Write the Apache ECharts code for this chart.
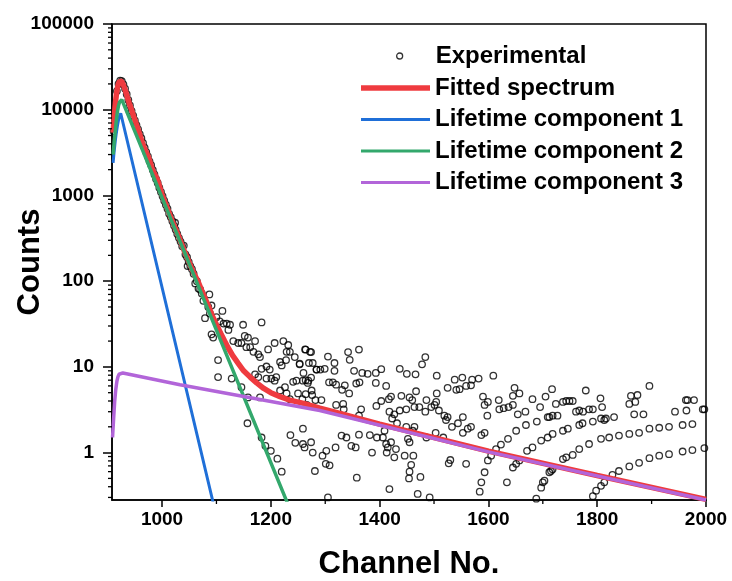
<!DOCTYPE html>
<html>
<head>
<meta charset="utf-8">
<script src="https://cdn.jsdelivr.net/npm/echarts@6/dist/echarts.min.js"></script>
<style>
  html, body { margin: 0; padding: 0; background: #fff; }
  #chart { width: 732px; height: 581px; }
</style>
</head>
<body>
<div id="chart"></div>
<script>
// axis ticks
const xTickLabels = [1000, 1200, 1400, 1600, 1800, 2000];
const xMinorTicks = [1100, 1300, 1500, 1700, 1900];
const yTickLabels = [1, 10, 100, 1000, 10000, 100000];
const yMinorTicks = [0.3, 0.4, 0.5, 0.6, 0.7, 0.8, 0.9,
  2, 3, 4, 5, 6, 7, 8, 9, 20, 30, 40, 50, 60, 70, 80, 90,
  200, 300, 400, 500, 600, 700, 800, 900, 2000, 3000, 4000, 5000, 6000, 7000, 8000, 9000,
  20000, 30000, 40000, 50000, 60000, 70000, 80000, 90000];
const xMin = 908, xMax = 2000, yMin = 0.28, yMax = 100000;

// fitted curves [channel, counts]
const fitted = [[910, 5400], [912, 8000], [914, 11500], [916, 15000], [918, 18000], [920, 20300],
  [922, 21500], [924, 21800], [926, 21300], [929, 19500], [932, 17200], [936, 14200], [940, 11800],
  [948, 8300], [956, 5900], [965, 3900], [975, 2800], [983, 1950], [992, 1500], [1000, 1020],
  [1010, 700], [1020, 480], [1030, 340], [1040, 232], [1050, 165], [1058, 125], [1066, 100],
  [1075, 72], [1085, 52], [1092, 40], [1100, 31], [1108, 24.5], [1115, 20], [1122, 16.5],
  [1130, 13.5], [1140, 11], [1150, 9], [1162, 7.6], [1174, 6.5], [1187, 5.6], [1200, 5.0],
  [1217, 4.5], [1235, 4.1], [1260, 3.75], [1290, 3.3], [1320, 2.95], [1400, 2.15], [1600, 1.04],
  [1800, 0.54], [2000, 0.285]];
const comp1 = [[910, 2400], [912, 3300], [914, 4300], [916, 5400], [918, 6500], [920, 7600],
  [922, 8500], [924, 9100], [926, 9200], [1100, 0.18]];
const comp2 = [[910, 3000], [912, 4200], [914, 5600], [916, 7500], [918, 9500], [920, 11200],
  [922, 12300], [924, 12900], [926, 13100], [1235, 0.22]];
const comp3 = [[909, 1.5], [911, 2.5], [913, 4.0], [915, 5.5], [917, 6.8], [919, 7.7], [921, 8.2],
  [924, 8.5], [928, 8.5], [1033, 6.2], [1290, 3.1], [1600, 1.02], [2000, 0.28]];

// experimental points [channel, counts]
const experimental = [
  [911, 5600], [914, 11000], [917, 16500], [920, 20000], [923, 21800], [926, 21500], [929, 19800],
  [932, 17600], [935, 15200], [938, 13000], [941, 11200], [944, 9700], [947, 8500], [950, 7500],
  [953, 6600], [956, 5900], [959, 5200], [962, 4650], [965, 4100], [968, 3600], [971, 3200],
  [974, 2850], [977, 2500], [980, 2250], [983, 1980], [986, 1760], [989, 1560], [992, 1400],
  [995, 1230], [998, 1100], [1001, 980], [1004, 870], [1007, 780], [1010, 700], [1013, 610],
  [1016, 560], [1019, 500], [1022, 445], [1024, 480], [1025, 400], [1028, 355], [1031, 320],
  [1034, 290], [1037, 255], [1040, 260], [1043, 205], [1046, 190], [1047, 150], [1049, 168],
  [1052, 150], [1055, 138], [1058, 122], [1061, 94], [1064, 100], [1067, 82], [1070, 80],
  [1073, 72], [1076, 59], [1079, 37], [1085, 50], [1087, 70], [1088, 42], [1091, 52], [1091, 24],
  [1094, 22], [1100, 38], [1106, 34], [1111, 45], [1113, 32], [1119, 32], [1122, 27], [1125, 31],
  [1149, 31], [1183, 33], [1131, 20], [1140, 19], [1146, 19], [1152, 23], [1158, 22], [1155, 17],
  [1162, 17], [1168, 15], [1171, 20], [1177, 14], [1180, 13], [1195, 16], [1207, 19], [1223, 20],
  [1232, 18], [1229, 15], [1235, 15], [1244, 13], [1217, 11.4], [1220, 10.4], [1228, 12],
  [1253, 10.9], [1263, 16], [1272, 15], [1277, 11.1], [1284, 9.3], [1183, 9.5], [1192, 10.1],
  [1198, 9.3], [1171, 8.2], [1177, 7.6], [1192, 7.3], [1201, 7.3], [1207, 6.9], [1210, 7.6],
  [1217, 5.3], [1226, 5.8], [1229, 4.9], [1247, 6.9], [1250, 4.9], [1235, 4.2], [1241, 6.7],
  [1259, 6.9], [1269, 6.9], [1275, 5.3], [1266, 3.6], [1103, 12], [1128, 7.3], [1103, 7.6],
  [1146, 5.8], [1158, 4.4], [1180, 4.4],
  [1157, 2.2], [1183, 1.5], [1190, 1.2], [1200, 1.05], [1212, 0.85], [1220, 0.6], [1236, 1.6], [1245, 1.3],
  [1264, 15.9], [1274, 14.9], [1305, 13.2], [1342, 14.9], [1345, 12.1], [1362, 15.9], [1484, 13.0],
  [1478, 10.7], [1253, 10.7], [1270, 11.1], [1317, 11.1], [1260, 8.5], [1284, 9.3], [1291, 9.3],
  [1299, 9.5], [1317, 9.0], [1353, 9.0], [1368, 8.5], [1378, 8.3], [1393, 8.5], [1403, 9.4],
  [1437, 9.5], [1450, 8.3], [1466, 8.2], [1505, 7.9], [1538, 7.1], [1552, 7.5], [1570, 7.1],
  [1582, 7.3], [1609, 7.9], [1264, 7.0], [1307, 6.6], [1314, 6.6], [1320, 6.2], [1268, 6.5],
  [1274, 7.5], [1336, 6.1], [1357, 6.4], [1363, 6.6], [1393, 6.5], [1412, 6.0], [1440, 4.6],
  [1455, 4.4], [1467, 5.2], [1505, 4.9], [1525, 5.7], [1541, 5.4], [1547, 5.5], [1559, 6.0],
  [1568, 6.1], [1590, 4.5], [1619, 4.1], [1645, 4.6], [1648, 5.7], [1657, 4.9], [1681, 4.2],
  [1705, 4.5], [1717, 5.5], [1779, 5.3], [1806, 4.3], [1862, 4.6], [1874, 4.7], [1896, 6.0],
  [1963, 4.1], [1978, 4.1], [1997, 3.2],
  [1264, 4.8], [1276, 4.7], [1258, 4.2], [1282, 4.1], [1293, 4.1], [1331, 5.4], [1344, 4.9],
  [1320, 3.6], [1333, 3.7], [1334, 3.2], [1366, 3.2], [1362, 2.7], [1394, 3.5], [1417, 4.2],
  [1421, 4.5], [1403, 4.0], [1418, 3.0], [1427, 2.8], [1437, 3.1], [1449, 3.2], [1460, 4.1],
  [1464, 3.4], [1473, 3.4], [1486, 4.1], [1484, 3.0], [1495, 3.4], [1501, 3.6], [1504, 3.9],
  [1509, 3.1], [1519, 2.7], [1525, 2.6], [1522, 2.4], [1533, 2.0], [1544, 2.2], [1553, 2.6],
  [1517, 1.5], [1503, 1.7], [1486, 1.5], [1464, 2.0], [1449, 2.0], [1432, 2.2], [1423, 2.5],
  [1409, 1.8], [1382, 1.6], [1395, 1.5], [1553, 1.7], [1562, 1.9], [1568, 2.0], [1587, 1.6],
  [1593, 1.7], [1598, 2.7], [1593, 3.6], [1599, 3.9], [1620, 3.2], [1628, 3.3], [1637, 3.4],
  [1645, 3.6], [1654, 2.8], [1668, 3.0], [1695, 3.4], [1712, 2.6], [1718, 2.7], [1727, 2.7],
  [1724, 3.7], [1737, 3.9], [1743, 4.0], [1749, 4.0], [1755, 4.0], [1761, 3.0], [1767, 3.1],
  [1774, 3.0], [1785, 3.2], [1792, 3.2], [1809, 3.4], [1807, 2.5], [1813, 2.4], [1831, 2.6],
  [1859, 3.7], [1870, 3.9], [1868, 2.8], [1885, 2.8], [1943, 3.0], [1964, 3.1], [1966, 4.1],
  [1994, 3.2],
  [1645, 0.67], [1651, 0.74], [1657, 0.81], [1671, 1.05], [1681, 1.15], [1697, 1.38], [1709, 1.5],
  [1718, 1.65], [1737, 1.8], [1746, 1.9], [1767, 2.1], [1773, 2.2], [1792, 2.3], [1816, 2.5],
  [1599, 0.81], [1605, 0.92], [1614, 1.1], [1623, 1.24], [1636, 1.45], [1651, 1.8], [1669, 2.1],
  [1689, 2.3], [1709, 2.6],
  [1697, 0.39], [1703, 0.47], [1712, 0.59], [1718, 0.64], [1737, 0.84], [1743, 0.88], [1755, 0.94],
  [1767, 1.1], [1785, 1.26], [1807, 1.45], [1822, 1.5], [1840, 1.58], [1859, 1.65], [1877, 1.7],
  [1896, 1.9], [1914, 1.95], [1932, 2.0], [1957, 2.1], [1975, 2.15],
  [1792, 0.31], [1798, 0.36], [1807, 0.41], [1813, 0.45], [1828, 0.55], [1840, 0.61], [1859, 0.69],
  [1877, 0.76], [1896, 0.86], [1914, 0.92], [1932, 0.96], [1957, 1.03], [1975, 1.07], [1997, 1.13],
  [1259, 1.9], [1259, 1.26], [1262, 1.15], [1277, 1.0], [1274, 1.32], [1295, 0.92], [1302, 1.05],
  [1301, 0.74], [1308, 0.71], [1319, 1.15], [1330, 1.58], [1339, 1.5], [1348, 1.2], [1356, 1.15],
  [1362, 1.62], [1386, 1.0], [1413, 1.0], [1415, 1.15], [1421, 1.32], [1427, 0.88], [1430, 1.1],
  [1446, 0.92], [1462, 0.92], [1455, 1.32], [1452, 1.45], [1461, 1.8], [1412, 1.26], [1406, 1.5],
  [1281, 0.61], [1305, 0.30], [1358, 0.51], [1418, 0.375], [1470, 0.33], [1492, 0.30], [1458, 0.72],
  [1455, 0.6], [1454, 0.5], [1475, 0.52], [1527, 0.75], [1530, 0.82], [1559, 0.74], [1584, 0.35],
  [1587, 0.45], [1593, 0.59], [1634, 0.45], [1688, 0.29], [1700, 0.45], [1715, 0.61]
];

const font = "'Liberation Sans', Arial, sans-serif";
const legendText = { fontSize: 24, fontWeight: 'bold', color: '#000', fontFamily: font, lineHeight: 24 };
const chart = echarts.init(document.getElementById('chart'));

// short outward tick marks drawn through the axis scales
function tickItem(isX, len) {
  return function (params, api) {
    const p = api.coord([api.value(0), api.value(1)]);
    const shape = isX
      ? { x1: p[0], y1: p[1], x2: p[0], y2: p[1] + len }
      : { x1: p[0] - len, y1: p[1], x2: p[0], y2: p[1] };
    return { type: 'line', shape: shape, style: { stroke: '#000', lineWidth: 1.3 } };
  };
}

const option = {
  backgroundColor: '#fff',
  animation: false,
  textStyle: { fontFamily: font },
  grid: {
    left: 112, right: 26, top: 24, bottom: 81,
    show: true, borderColor: '#000', borderWidth: 1.5,
    outerBoundsMode: 'none',
  },
  legend: [
    {
      data: [{ name: 'Experimental', icon: 'circle',
        itemStyle: { color: '#fff', borderColor: '#000', borderWidth: 1.3 } }],
      left: 391, top: 39,
      itemWidth: 62, itemHeight: 6,
      textStyle: legendText,
    },
    {
      data: [{ name: 'Fitted spectrum', icon: 'rect' }],
      left: 356, top: 71,
      itemWidth: 69, itemHeight: 5.5,
      textStyle: legendText,
    },
    {
      data: [{ name: 'Lifetime component 1', icon: 'rect' }, { name: 'Lifetime component 2', icon: 'rect' },
        { name: 'Lifetime component 3', icon: 'rect' }],
      orient: 'vertical',
      left: 356, top: 102.5,
      itemWidth: 69, itemHeight: 3, itemGap: 7.5,
      textStyle: legendText,
    },
  ],
  xAxis: {
    type: 'value', min: xMin, max: xMax,
    name: 'Channel No.', nameLocation: 'middle', nameGap: 49, nameMoveOverlap: false,
    nameTextStyle: { fontSize: 31, fontWeight: 'bold', color: '#000', fontFamily: font },
    axisLine: { lineStyle: { color: '#000', width: 1.5 } },
    axisTick: { customValues: xTickLabels, length: 7, lineStyle: { color: '#000', width: 1.5 } },
    axisLabel: { customValues: xTickLabels, margin: 10, fontSize: 19, fontWeight: 'bold', color: '#000',
      formatter: v => String(v) },
    splitLine: { show: false },
  },
  yAxis: {
    type: 'log', logBase: 10, min: yMin, max: yMax,
    name: 'Counts', nameLocation: 'middle', nameGap: 66, nameRotate: 90, nameMoveOverlap: false,
    nameTextStyle: { fontSize: 31, fontWeight: 'bold', color: '#000', fontFamily: font },
    axisLine: { show: true, lineStyle: { color: '#000', width: 1.5 } },
    axisTick: { customValues: yTickLabels, length: 9, lineStyle: { color: '#000', width: 1.5 } },
    axisLabel: { customValues: yTickLabels, margin: 18, fontSize: 19, fontWeight: 'bold', color: '#000',
      formatter: v => String(Math.round(v)) },
    splitLine: { show: false },
  },
  series: [
    {
      name: 'Experimental', type: 'scatter', data: experimental,
      symbol: 'circle', symbolSize: 6.5,
      itemStyle: { color: 'rgba(255,255,255,0)', borderColor: '#000', borderWidth: 1.3 },
      z: 1,
    },
    {
      name: 'Fitted spectrum', type: 'line', data: fitted, symbol: 'none',
      lineStyle: { color: '#ef3b3f', width: 5.5 }, itemStyle: { color: '#ef3b3f' }, z: 2,
    },
    {
      name: 'Lifetime component 1', type: 'line', data: comp1, symbol: 'none',
      lineStyle: { color: '#1f6fd8', width: 3 }, itemStyle: { color: '#1f6fd8' }, z: 3,
    },
    {
      name: 'Lifetime component 2', type: 'line', data: comp2, symbol: 'none',
      lineStyle: { color: '#33a86c', width: 3.5 }, itemStyle: { color: '#33a86c' }, z: 4,
    },
    {
      name: 'Lifetime component 3', type: 'line', data: comp3, symbol: 'none',
      lineStyle: { color: '#b265d9', width: 3.5 }, itemStyle: { color: '#b265d9' }, z: 5,
    },
    {
      type: 'custom', silent: true, clip: false, z: 10,
      data: yMinorTicks.map(v => [xMin, v]),
      renderItem: tickItem(false, 4),
    },
    {
      type: 'custom', silent: true, clip: false, z: 10,
      data: xMinorTicks.map(v => [v, yMin]),
      renderItem: tickItem(true, 4),
    },
  ],
};
chart.setOption(option);
</script>
</body>
</html>
